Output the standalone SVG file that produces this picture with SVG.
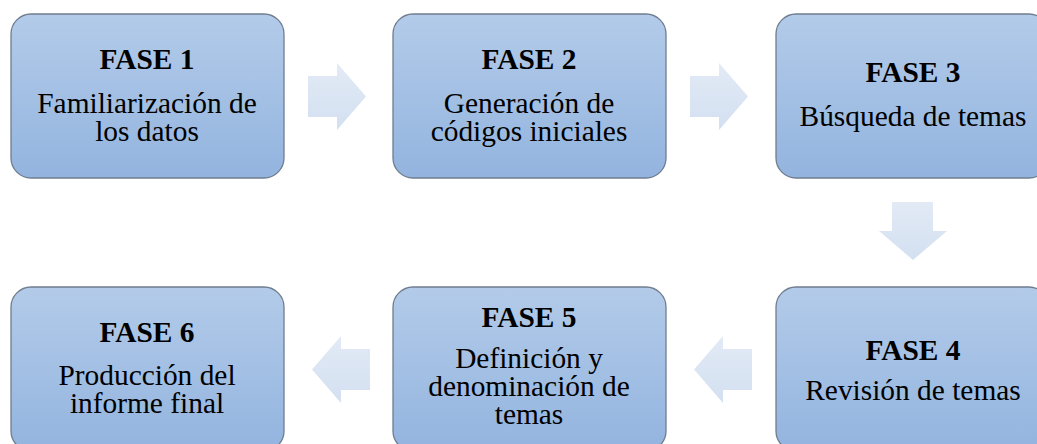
<svg xmlns="http://www.w3.org/2000/svg" width="1037" height="444" viewBox="0 0 1037 444">
<defs>
<linearGradient id="g" x1="0" y1="0" x2="0" y2="1">
<stop offset="0" stop-color="#b3cbe9"/>
<stop offset="1" stop-color="#93b4df"/>
</linearGradient>
<linearGradient id="ga" x1="0" y1="0" x2="0" y2="1">
<stop offset="0" stop-color="#e2eaf5"/>
<stop offset="1" stop-color="#d3e0f1"/>
</linearGradient>
<style>
.box{fill:url(#g);stroke:#6f7d8f;stroke-width:1.3}
.arr{fill:url(#ga)}
text{font-family:"Liberation Serif","Times New Roman",serif;font-size:29.4px;fill:#000;text-anchor:middle}
.t{font-weight:bold}
</style>
</defs>
<rect width="1037" height="444" fill="#fff"/>
<g id="connectors">
<polygon class="arr" points="308,76 337,76 337,63 366,96.5 337,130 337,117 308,117"/>
<polygon class="arr" points="690,76 719,76 719,63 748,96.5 719,130 719,117 690,117"/>
<polygon class="arr" points="892,202 933,202 933,231 947,231 913,260 879,231 892,231"/>
<polygon class="arr" points="752,349 723,349 723,336 694,369.5 723,403 723,390 752,390"/>
<polygon class="arr" points="370,349 341,349 341,336 312,369.5 341,403 341,390 370,390"/>
</g>
<g id="fase1">
<rect class="box" x="11" y="14" width="273" height="164" rx="20"/>
<text class="t" x="147" y="69">FASE 1</text>
<text x="147" y="113">Familiarización de</text>
<text x="147" y="141">los datos</text>
</g>
<g id="fase2">
<rect class="box" x="393" y="14" width="273" height="164" rx="20"/>
<text class="t" x="529" y="69">FASE 2</text>
<text x="529" y="113">Generación de</text>
<text x="529" y="141">códigos iniciales</text>
</g>
<g id="fase3">
<rect class="box" x="776" y="14" width="273" height="164" rx="20"/>
<text class="t" x="913" y="82">FASE 3</text>
<text x="913" y="126">Búsqueda de temas</text>
</g>
<g id="fase4">
<rect class="box" x="776" y="287" width="273" height="164" rx="20"/>
<text class="t" x="913" y="360">FASE 4</text>
<text x="913" y="400">Revisión de temas</text>
</g>
<g id="fase5">
<rect class="box" x="393" y="287" width="273" height="164" rx="20"/>
<text class="t" x="529" y="327">FASE 5</text>
<text x="529" y="368">Definición y</text>
<text x="529" y="396">denominación de</text>
<text x="529" y="424">temas</text>
</g>
<g id="fase6">
<rect class="box" x="11" y="287" width="273" height="164" rx="20"/>
<text class="t" x="147" y="342">FASE 6</text>
<text x="147" y="385">Producción del</text>
<text x="147" y="413">informe final</text>
</g>
</svg>
